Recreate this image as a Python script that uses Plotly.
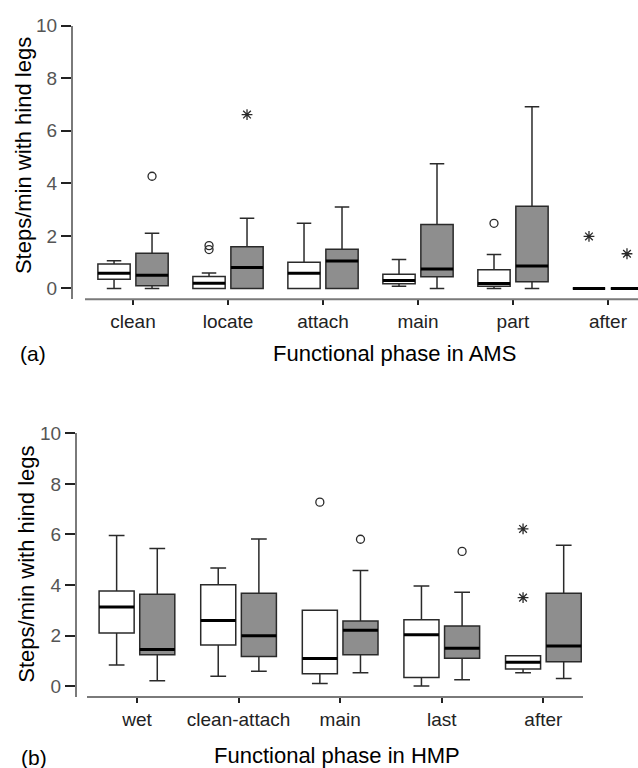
import plotly.graph_objects as go

# ---------------- data ----------------
ams_phases = ["clean", "locate", "attach", "main", "part", "after"]
ams_white_low = [0.0, 0.0, 0.0, 0.08, 0.0, 0.0]
ams_white_q1 = [0.35, 0.0, 0.0, 0.18, 0.08, 0.0]
ams_white_med = [0.58, 0.2, 0.58, 0.3, 0.19, 0.0]
ams_white_q3 = [0.93, 0.45, 1.0, 0.54, 0.71, 0.0]
ams_white_high = [1.05, 0.59, 2.48, 1.1, 1.29, 0.0]
ams_gray_low = [0.0, 0.0, 0.0, 0.0, 0.0, 0.0]
ams_gray_q1 = [0.1, 0.0, 0.0, 0.44, 0.25, 0.0]
ams_gray_med = [0.5, 0.8, 1.04, 0.74, 0.85, 0.0]
ams_gray_q3 = [1.34, 1.59, 1.49, 2.43, 3.13, 0.0]
ams_gray_high = [2.1, 2.67, 3.1, 4.75, 6.92, 0.0]
# outliers: (phase index, value)
ams_circles_white = [(1, 1.63), (1, 1.48), (4, 2.48)]
ams_circles_gray = [(0, 4.27)]
ams_stars_white = [(5, 1.98)]
ams_stars_gray = [(1, 6.62), (5, 1.32)]

hmp_phases = ["wet", "clean-attach", "main", "last", "after"]
hmp_white_low = [0.83, 0.39, 0.1, 0.0, 0.53]
hmp_white_q1 = [2.1, 1.63, 0.49, 0.34, 0.68]
hmp_white_med = [3.13, 2.6, 1.09, 2.03, 0.94]
hmp_white_q3 = [3.76, 4.01, 3.0, 2.62, 1.2]
hmp_white_high = [5.96, 4.67, 3.0, 3.96, 1.2]
hmp_gray_low = [0.21, 0.59, 0.53, 0.25, 0.3]
hmp_gray_q1 = [1.24, 1.17, 1.24, 1.1, 0.96]
hmp_gray_med = [1.45, 1.99, 2.21, 1.5, 1.59]
hmp_gray_q3 = [3.63, 3.67, 2.58, 2.38, 3.67]
hmp_gray_high = [5.44, 5.82, 4.57, 3.71, 5.57]
hmp_circles_white = [(2, 7.28)]
hmp_circles_gray = [(2, 5.81), (3, 5.33)]
hmp_stars_white = [(4, 6.22), (4, 3.5)]
hmp_stars_gray = []

y_ticks = [0, 2, 4, 6, 8, 10]
y_title = "Steps/min with hind legs"

# ---------------- styling ----------------
FILL_GRAY = "#8e8e8e"
EDGE = "#2a2a2a"
AXIS = "#7a7a7a"
TICKTXT = "#555555"
FONT = "Liberation Sans, Arial, sans-serif"

fig = go.Figure()


def add_panel(xa, ya, n, wl, wq1, wm, wq3, wh, gl, gq1, gm, gq3, gh,
              cw, cg, sw, sg, offset, bw):
    idx = list(range(n))
    for sign, fill, lo, q1, med, q3, hi in [
        (-1, "white", wl, wq1, wm, wq3, wh),
        (1, FILL_GRAY, gl, gq1, gm, gq3, gh),
    ]:
        xs = [i + sign * offset for i in idx]
        fig.add_trace(go.Box(
            x=xs, q1=q1, median=med, q3=q3, lowerfence=lo, upperfence=hi,
            width=bw, whiskerwidth=0.45, fillcolor=fill,
            line=dict(color=EDGE, width=1.5), boxpoints=False,
            xaxis=xa, yaxis=ya, showlegend=False, hoverinfo="skip"))
        # thick median lines
        mx, my = [], []
        for x, m in zip(xs, med):
            mx += [x - bw / 2, x + bw / 2, None]
            my += [m, m, None]
        fig.add_trace(go.Scatter(
            x=mx, y=my, mode="lines", line=dict(color="black", width=3),
            xaxis=xa, yaxis=ya, showlegend=False, hoverinfo="skip"))
    for pts, sign, sym, size in [
        (cw, -1, "circle-open", 8), (cg, 1, "circle-open", 8),
        (sw, -1, "asterisk-open", 9), (sg, 1, "asterisk-open", 9)]:
        if not pts:
            continue
        fig.add_trace(go.Scatter(
            x=[p[0] + sign * offset for p in pts], y=[p[1] for p in pts],
            mode="markers",
            marker=dict(symbol=sym, size=size, color=EDGE,
                        line=dict(color=EDGE, width=1.3)),
            xaxis=xa, yaxis=ya, showlegend=False, hoverinfo="skip"))


add_panel("x", "y", len(ams_phases), ams_white_low, ams_white_q1, ams_white_med,
          ams_white_q3, ams_white_high, ams_gray_low, ams_gray_q1, ams_gray_med,
          ams_gray_q3, ams_gray_high, ams_circles_white, ams_circles_gray,
          ams_stars_white, ams_stars_gray, 0.2, 0.34)
add_panel("x2", "y2", len(hmp_phases), hmp_white_low, hmp_white_q1, hmp_white_med,
          hmp_white_q3, hmp_white_high, hmp_gray_low, hmp_gray_q1, hmp_gray_med,
          hmp_gray_q3, hmp_gray_high, hmp_circles_white, hmp_circles_gray,
          hmp_stars_white, hmp_stars_gray, 0.2, 0.345)

W, H = 638, 768

xaxis_common = dict(
    showline=False, showgrid=False, zeroline=False, ticks="outside",
    ticklen=5, tickwidth=2, tickcolor="#222222",
    tickfont=dict(family=FONT, size=19, color="#222222"),
)
yaxis_common = dict(
    showline=True, linecolor=AXIS, linewidth=2, showgrid=False, zeroline=False,
    ticks="outside", ticklen=10, tickwidth=2, tickcolor="#222222",
    tickvals=y_ticks, tickfont=dict(family=FONT, size=19, color=TICKTXT),
)


def ann(text, x, y, size, angle=0):
    return dict(text=text, x=x / W, y=1 - y / H, xref="paper", yref="paper",
                showarrow=False, xanchor="center", yanchor="middle",
                textangle=angle, font=dict(family=FONT, size=size, color="black"))


fig.update_layout(
    width=W, height=H, margin=dict(l=0, r=0, t=0, b=0),
    paper_bgcolor="white", plot_bgcolor="white", showlegend=False,
    xaxis=dict(domain=[73 / W, 1.0], range=[-0.632, 5.316],
               tickvals=list(range(len(ams_phases))), ticktext=ams_phases,
               anchor="y", **xaxis_common),
    yaxis=dict(domain=[1 - 293 / H, 1 - 16 / H], range=[-0.41, 10],
               anchor="x", **yaxis_common),
    xaxis2=dict(domain=[77 / W, 583 / W], range=[-0.59, 4.39],
                tickvals=list(range(len(hmp_phases))), ticktext=hmp_phases,
                anchor="y2", **xaxis_common),
    yaxis2=dict(domain=[1 - 696 / H, 1 - 429 / H], range=[-0.43, 10],
                anchor="x2", **yaxis_common),
    shapes=[
        dict(type="line", xref="paper", yref="paper",
             x0=85 / W, x1=1.0, y0=1 - 293 / H, y1=1 - 293 / H,
             line=dict(color=AXIS, width=2)),
        dict(type="line", xref="paper", yref="paper",
             x0=87 / W, x1=583 / W, y0=1 - 696 / H, y1=1 - 696 / H,
             line=dict(color=AXIS, width=2)),
    ],
    annotations=[
        ann(y_title, 23, 148, 22, -90),
        ann(y_title, 27, 562, 22, -90),
        ann("(a)", 33, 348, 21),
        ann("Functional phase in AMS", 394, 348, 22),
        ann("(b)", 34, 757, 21),
        ann("Functional phase in HMP", 337, 755, 22),
    ],
)

fig.write_html("out.html")
